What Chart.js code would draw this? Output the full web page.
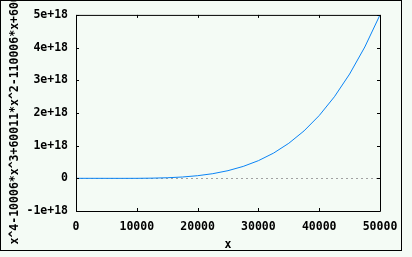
<!DOCTYPE html>
<html>
<head>
<meta charset="utf-8">
<script src="https://cdn.jsdelivr.net/npm/chart.js@4"></script>
<style>
  html, body { margin: 0; padding: 0; background: #f4fbf5; }
  canvas { display: block; }
</style>
</head>
<body>
<canvas id="chart" width="412" height="257"></canvas>
<script>
// values
const xValues = [0, 2500, 5000, 7500, 10000, 12500, 15000, 17500, 20000, 22500, 25000,
                 27500, 30000, 32500, 35000, 37500, 40000, 42500, 45000, 47500, 50000];
const yValues = [0, -0.0001e18, -0.0006e18, -0.001e18, 0, 0.005e18, 0.017e18, 0.04e18, 0.08e18, 0.142e18, 0.234e18,
                 0.364e18, 0.54e18, 0.772e18, 1.072e18, 1.45e18, 1.92e18, 2.495e18, 3.19e18, 4.018e18, 5.0e18];
const xTicks = [0, 10000, 20000, 30000, 40000, 50000];
const yTicks = [-1e18, 0, 1e18, 2e18, 3e18, 4e18, 5e18];
const yTitle = 'x^4-10006*x^3+60011*x^2-110006*x+60000';
const xTitle = 'x';

const font = { family: 'DejaVu Sans Mono', size: 11.5, weight: 'bold' };

function fmtY(v) {
    if (v === 0) return '0';
    return Math.round(v / 1e18) + 'e+18';
}

// gnuplot-ish frame: inward ticks, box, dotted zero axis, outer border
const framePlugin = {
    id: 'frame',
    beforeDraw(chart) {
        const ctx = chart.ctx;
        ctx.save();
        ctx.fillStyle = '#f4fbf5';
        ctx.fillRect(0, 0, chart.width, chart.height);
        ctx.restore();
    },
    beforeDatasetsDraw(chart) {
        const { ctx, chartArea, scales } = chart;
        const y0 = Math.round(scales.y.getPixelForValue(0)) + 0.5;
        ctx.save();
        ctx.strokeStyle = '#a0a0a0';
        ctx.lineWidth = 1;
        ctx.setLineDash([2, 3]);
        ctx.beginPath();
        ctx.moveTo(chartArea.left, y0);
        ctx.lineTo(chartArea.right, y0);
        ctx.stroke();
        ctx.restore();
    },
    afterDatasetsDraw(chart) {
        const { ctx, chartArea, scales } = chart;
        const { left, right, top, bottom } = chartArea;
        const tl = 3;
        ctx.save();
        ctx.strokeStyle = '#000';
        ctx.lineWidth = 1;
        ctx.beginPath();
        ctx.rect(left + 0.5, top + 0.5, right - left, bottom - top);
        yTicks.forEach(v => {
            const p = Math.round(scales.y.getPixelForValue(v)) + 0.5;
            ctx.moveTo(left, p); ctx.lineTo(left + tl, p);
            ctx.moveTo(right, p); ctx.lineTo(right - tl, p);
        });
        xTicks.forEach(v => {
            const p = Math.round(scales.x.getPixelForValue(v)) + 0.5;
            ctx.moveTo(p, bottom); ctx.lineTo(p, bottom - tl);
            ctx.moveTo(p, top); ctx.lineTo(p, top + tl);
        });
        ctx.stroke();
        // outer border of the picture
        ctx.strokeRect(0.5, 0.5, 401, 250);
        ctx.restore();
    }
};

new Chart(document.getElementById('chart'), {
    type: 'line',
    data: {
        datasets: [{
            data: xValues.map((x, i) => ({ x: x, y: yValues[i] })),
            borderColor: '#0a84f5',
            borderWidth: 1,
            pointRadius: 0,
            fill: false,
            tension: 0
        }]
    },
    options: {
        responsive: false,
        animation: false,
        layout: { padding: { top: 14, right: 32, left: 0, bottom: 0 } },
        plugins: {
            legend: { display: false },
            tooltip: { enabled: false }
        },
        scales: {
            x: {
                type: 'linear',
                min: 0,
                max: 50000,
                afterFit(scale) { scale.height = 46; },
                afterBuildTicks(scale) { scale.ticks = xTicks.map(v => ({ value: v })); },
                grid: { display: false, drawTicks: false },
                border: { display: false },
                ticks: {
                    autoSkip: false,
                    maxRotation: 0,
                    padding: 9,
                    color: '#000',
                    font: font,
                    callback: v => String(v)
                },
                title: {
                    display: true,
                    text: xTitle,
                    color: '#000',
                    font: font,
                    padding: { top: 0, bottom: 5 }
                }
            },
            y: {
                type: 'linear',
                min: -1e18,
                max: 5e18,
                afterFit(scale) { scale.width = 76; },
                afterBuildTicks(scale) { scale.ticks = yTicks.map(v => ({ value: v })); },
                grid: { display: false, drawTicks: false },
                border: { display: false },
                ticks: {
                    autoSkip: false,
                    padding: 8,
                    color: '#000',
                    font: font,
                    callback: v => fmtY(v)
                },
                title: {
                    display: true,
                    text: yTitle,
                    color: '#000',
                    font: font,
                    padding: { top: 8, bottom: 0 }
                }
            }
        }
    },
    plugins: [framePlugin]
});
</script>
</body>
</html>
